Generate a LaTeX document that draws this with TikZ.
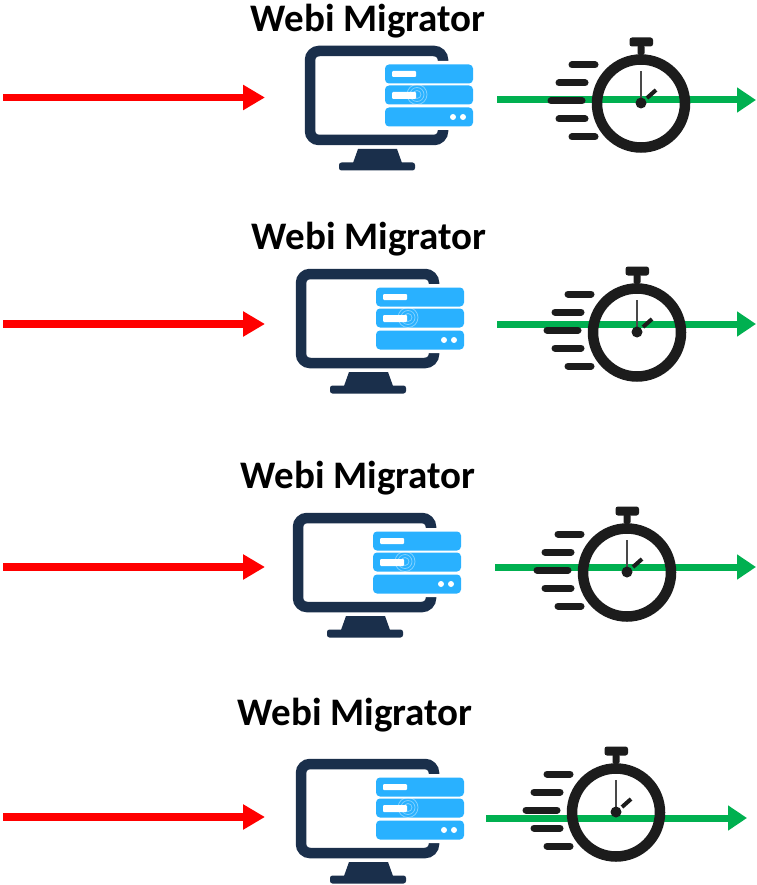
\documentclass[tikz,border=0pt]{standalone}
\usepackage{fontspec}
\setmainfont{Carlito}
\usetikzlibrary{arrows.meta}
\definecolor{navy}{HTML}{1A2F4B}
\definecolor{srvblue}{HTML}{29B1FF}
\definecolor{inkblack}{HTML}{1C1C1C}
\definecolor{redline}{HTML}{FF0000}
\definecolor{greenline}{HTML}{00B050}
\tikzset{
  x=1pt,y=-1pt,
  titletext/.style={anchor=base,inner sep=0pt,text=black,font=\fontsize{39}{42}\selectfont\bfseries},
  redarrow/.style={draw=redline,line width=7.5pt,-{Triangle[length=22pt,width=24pt,fill=redline]}},
  greenarrow/.style={draw=greenline,line width=7pt,-{Triangle[length=19pt,width=24pt,fill=greenline]}},
  speedline/.style={draw=inkblack,line width=7pt,line cap=round},
  srvbar/.style={fill=srvblue,rounded corners=4pt},
  monitor/.pic={
    \draw[navy,line width=10.5pt,rounded corners=9pt] (5,5) rectangle (138,94);
    \fill[white,rounded corners=5pt] (76,15) rectangle (172,84);
    \fill[navy] (53,103) -- (92,103) -- (97,117) -- (48,117) -- cycle;
    \fill[navy,rounded corners=2.5pt] (34,116.5) rectangle (110,124.5);
    \fill[srvbar] (80,18.5) rectangle (168,37.5);
    \fill[srvbar] (80,39.5) rectangle (168,58.5);
    \fill[srvbar] (80,61.5) rectangle (168,80.5);
    \fill[white,rounded corners=1pt] (87,25) rectangle (111,31);
    \fill[white,rounded corners=1pt] (87,46) rectangle (111,53);
    \fill[white] (148,71) circle[radius=3pt] (158,71) circle[radius=3pt];
    \draw[white,opacity=.4,line width=.8pt] (112,48.5) circle[radius=4pt] (112,48.5) circle[radius=7pt] (112,48.5) circle[radius=10pt];
  },
  stopwatch/.pic={
    \draw[speedline] (-69,-38) -- (-46,-38);
    \draw[speedline] (-82,-20) -- (-56,-20);
    \draw[speedline] (-90,-2) -- (-59,-2);
    \draw[speedline] (-82,16) -- (-56,16);
    \draw[speedline] (-69,34) -- (-46,34);
    \fill[white] (-6,-58) rectangle (6,-44);
    \fill[inkblack,rounded corners=2pt] (-3.5,-58) rectangle (3.5,-48);
    \draw[inkblack,line width=10.5pt] (0,0.5) circle[radius=44pt];
    \fill[inkblack,rounded corners=2.5pt] (-11.5,-65.5) rectangle (12,-56.5);
    \draw[inkblack!80,line width=1.8pt] (0,0) -- (0,-32);
    \draw[inkblack,line width=4pt] (6,-5) -- (15,-13);
    \fill[inkblack] (0,0) circle[radius=5.5pt];
  }
}
\begin{document}
\begin{tikzpicture}
\path[fill=white] (0,0) rectangle (756,885);
\useasboundingbox (0,0) rectangle (756,885);
% titles
\node[titletext] (title1) at (368,31.5) {Webi Migrator};
\node[titletext] (title2) at (369,249) {Webi Migrator};
\node[titletext] (title3) at (358,488) {Webi Migrator};
\node[titletext] (title4) at (355,725) {Webi Migrator};
% arrow ends
\coordinate (ra1) at (3,97.5);   \coordinate (rb1) at (265,97.5);
\coordinate (ra2) at (3,324);    \coordinate (rb2) at (265,324);
\coordinate (ra3) at (3,567);    \coordinate (rb3) at (265,567);
\coordinate (ra4) at (3,817);    \coordinate (rb4) at (265,817);
\coordinate (ga1) at (497,100);  \coordinate (gb1) at (756,100);
\coordinate (ga2) at (497,324);  \coordinate (gb2) at (756,324);
\coordinate (ga3) at (495,567);  \coordinate (gb3) at (756,567);
\coordinate (ga4) at (486,818);  \coordinate (gb4) at (747,818);
% red arrows
\draw[redarrow] (ra1) -- (rb1);
\draw[redarrow] (ra2) -- (rb2);
\draw[redarrow] (ra3) -- (rb3);
\draw[redarrow] (ra4) -- (rb4);
% monitors
\pic at (305,46) {monitor};
\pic at (296,269) {monitor};
\pic at (293,513) {monitor};
\pic at (296,759) {monitor};
% green arrows
\draw[greenarrow] (ga1) -- (gb1);
\draw[greenarrow] (ga2) -- (gb2);
\draw[greenarrow] (ga3) -- (gb3);
\draw[greenarrow] (ga4) -- (gb4);
% stopwatches
\pic at (641,103) {stopwatch};
\pic at (637,332) {stopwatch};
\pic at (627,572) {stopwatch};
\pic at (616,812) {stopwatch};
\end{tikzpicture}
\end{document}
